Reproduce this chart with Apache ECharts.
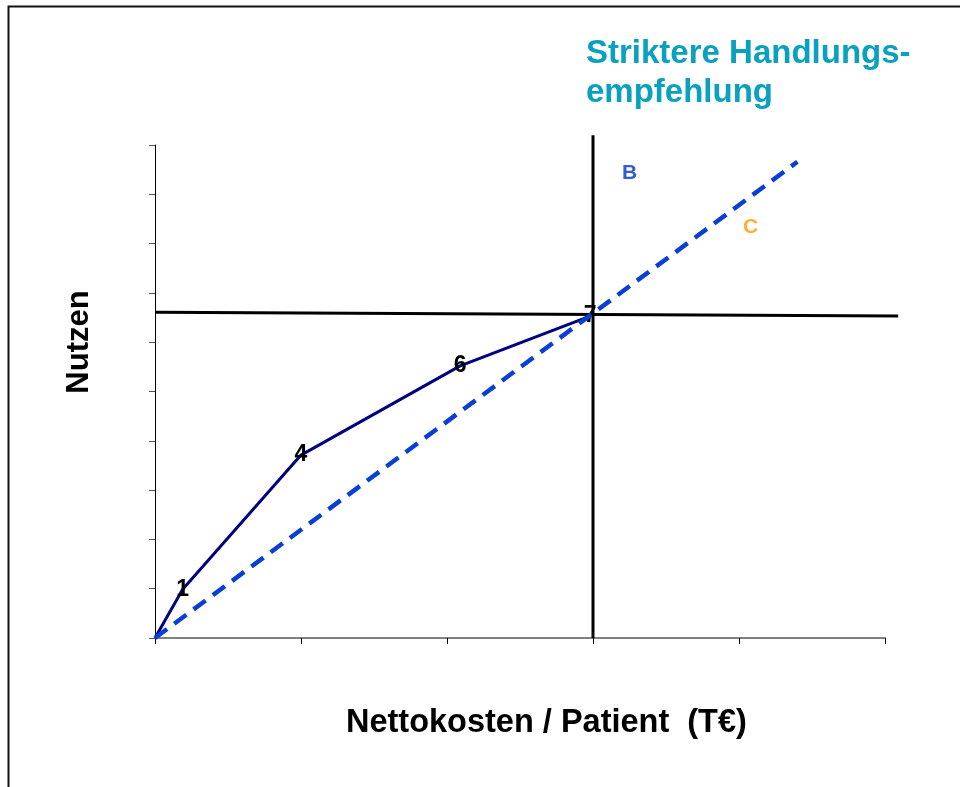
<!DOCTYPE html>
<html>
<head>
<meta charset="utf-8">
<script src="https://cdn.jsdelivr.net/npm/echarts@6/dist/echarts.min.js"></script>
<style>
html,body{margin:0;padding:0;background:#fff;}
#main{width:960px;height:787px;}
</style>
</head>
<body>
<div id="main"></div>
<script>
// Daten (x: Nettokosten, y: Nutzen)
var kurveX = [0, 0.19, 1.0, 2.09, 2.98];
var kurveY = [0, 0.99, 3.71, 5.52, 6.53];
var kurveLabels = ['', '1', '4', '6', '7'];

var diagX = [0, 4.40];
var diagY = [0, 9.66];

// Trennlinien: [x1, y1, x2, y2]
var hLinie = [0, 6.61, 5.09, 6.53];
var vLinie = [3, 0, 3, 10.2];

var punktNamen = ['B', 'C'];
var punktX = [3.25, 4.08];
var punktY = [9.43, 8.34];
var punktFarben = ['#0033cc', '#ff9900'];

var titelZeilen = ['Striktere Handlungs-', 'empfehlung'];

function paare(xs, ys){
    var out = [];
    for(var i=0;i<xs.length;i++){
        out.push([xs[i], ys[i]]);
    }
    return out;
}

//Kurve mit Beschriftung
function kurveData(){
    var d = [];
    for(var i=0;i<kurveX.length;i++){
        d.push({
            value:[kurveX[i], kurveY[i]],
            label:{show: kurveLabels[i] !== '', formatter: kurveLabels[i]}
        });
    }
    return d;
}

function punktData(){
    var d = [];
    for(var i=0;i<punktNamen.length;i++){
        d.push({
            value:[punktX[i], punktY[i]],
            label:{show:true, formatter:punktNamen[i], color:punktFarben[i]}
        });
    }
    return d;
}

//Linie zwischen zwei Punkten zeichnen
function linieRender(params, api){
    var a = api.coord([api.value(0), api.value(1)]);
    var b = api.coord([api.value(2), api.value(3)]);
    return {
        type: 'line',
        shape: {x1: a[0], y1: a[1], x2: b[0], y2: b[1]},
        style: {stroke: '#000', lineWidth: 3}
    };
}

var myChart = echarts.init(document.getElementById('main'));
var option = {
    animation: false,
    backgroundColor: '#fff',
    grid: {
        left: 155,
        top: 145,
        right: 75,
        bottom: 149
    },
    xAxis: {
        type: 'value',
        min: 0,
        max: 5,
        interval: 1,
        axisLine: {show: true, lineStyle: {color: '#808080', width: 2}},
        axisTick: {show: true, length: 6, lineStyle: {color: '#000', width: 1}},
        axisLabel: {show: false},
        splitLine: {show: false}
    },
    yAxis: {
        type: 'value',
        min: 0,
        max: 10,
        interval: 1,
        axisLine: {show: true, lineStyle: {color: '#000', width: 1}},
        axisTick: {show: true, length: 6, lineStyle: {color: '#555', width: 1}},
        axisLabel: {show: false},
        splitLine: {show: false}
    },
    graphic: [
        {
            type: 'polyline',
            shape: {points: [[8.5, 787], [8.5, 6.5], [960, 6.5]]},
            style: {stroke: '#111', lineWidth: 2, fill: null}
        },
        {
            type: 'text',
            left: 586,
            top: 34,
            style: {
                text: titelZeilen.join('\n'),
                fill: '#0aa0bf',
                font: 'bold 33px "Liberation Sans", Arial, sans-serif',
                lineHeight: 39
            }
        },
        {
            type: 'text',
            left: 346,
            top: 707,
            style: {
                text: 'Nettokosten / Patient  (T\u20ac)',
                fill: '#000',
                font: 'bold 32.5px "Liberation Sans", Arial, sans-serif'
            }
        },
        {
            type: 'text',
            x: 79,
            y: 342,
            rotation: Math.PI / 2,
            style: {
                text: 'Nutzen',
                fill: '#000',
                font: 'bold 31px "Liberation Sans", Arial, sans-serif',
                align: 'center',
                verticalAlign: 'middle'
            },
            originX: 0,
            originY: 0
        }
    ],
    series: [
        {
            type: 'custom',
            renderItem: linieRender,
            data: [hLinie, vLinie],
            clip: false,
            z: 2
        },
        {
            type: 'line',
            data: kurveData(),
            symbol: 'circle',
            symbolSize: 0,
            lineStyle: {color: '#00007f', width: 3},
            label: {
                position: 'inside',
                color: '#000',
                fontWeight: 'bold',
                fontSize: 23,
                fontFamily: '"Liberation Sans", Arial, sans-serif'
            },
            z: 3
        },
        {
            type: 'line',
            data: paare(diagX, diagY),
            symbol: 'none',
            lineStyle: {color: '#0a3fd6', width: 4.5, type: [15, 9]},
            z: 4
        },
        {
            type: 'scatter',
            data: punktData(),
            symbolSize: 0,
            label: {
                position: 'inside',
                fontWeight: 'bold',
                fontSize: 21,
                fontFamily: '"Liberation Sans", Arial, sans-serif'
            }
        }
    ]
};
myChart.setOption(option);
window.onresize = myChart.resize;
</script>
</body>
</html>
